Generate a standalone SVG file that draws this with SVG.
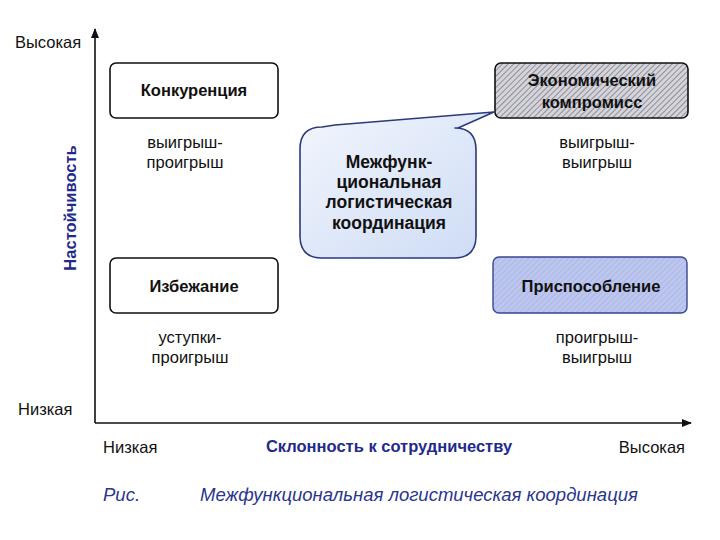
<svg xmlns="http://www.w3.org/2000/svg" width="720" height="540" viewBox="0 0 720 540">
<style>
.t{font-family:"Liberation Sans",Arial,sans-serif;font-size:16.5px;fill:#111}
.b{font-family:"Liberation Sans",Arial,sans-serif;font-size:16.5px;font-weight:bold;fill:#111;text-anchor:middle}
.bc{font-size:17.5px}
.c{text-anchor:middle}
.blue{font-family:"Liberation Sans",Arial,sans-serif;font-size:16.5px;font-weight:bold;fill:#1f2a8c}
.cap{font-family:"Liberation Sans",Arial,sans-serif;font-size:18.5px;font-style:italic;fill:#2a3590}
.box{stroke:#111;stroke-width:1.6}
</style>
<defs>
<pattern id="hg" width="4" height="4" patternUnits="userSpaceOnUse" patternTransform="rotate(45)">
<rect width="4" height="4" fill="#d4d4da"/>
<line x1="0" y1="0" x2="0" y2="4" stroke="#6a6a78" stroke-width="1.3"/>
</pattern>
<pattern id="hb" width="4" height="4" patternUnits="userSpaceOnUse" patternTransform="rotate(45)">
<rect width="4" height="4" fill="#bcc6ee"/>
<line x1="0" y1="0" x2="0" y2="4" stroke="#a4b0e0" stroke-width="1.3"/>
</pattern>
<linearGradient id="gc" x1="0" y1="0" x2="1" y2="1">
<stop offset="0" stop-color="#f2f6fd"/>
<stop offset="1" stop-color="#cddbf5"/>
</linearGradient>
<marker id="ar" markerWidth="10" markerHeight="10" refX="9" refY="5" orient="auto" markerUnits="userSpaceOnUse">
<path d="M0,1 L10,5 L0,9 Z" fill="#111"/>
</marker>
</defs>
<rect width="720" height="540" fill="#fff"/>

<g id="connectors">
<line x1="95" y1="423" x2="95" y2="29" stroke="#111" stroke-width="1.6" marker-end="url(#ar)"/>
<line x1="95" y1="423" x2="691" y2="423" stroke="#111" stroke-width="1.6" marker-end="url(#ar)"/>
</g>

<g id="axis-labels">
<text class="t" x="15" y="48">Высокая</text>
<text class="t" x="18" y="415">Низкая</text>
<text class="blue" transform="translate(76,208) rotate(-90)" text-anchor="middle">Настойчивость</text>
<text class="t" x="103" y="453">Низкая</text>
<text class="blue" x="389" y="452" text-anchor="middle">Склонность к сотрудничеству</text>
<text class="t" x="685" y="453" text-anchor="end">Высокая</text>
</g>

<g id="konkurenciya">
<rect class="box" x="110" y="63" width="168" height="55" rx="6" fill="#fff"/>
<text class="b" x="194" y="96">Конкуренция</text>
<text class="t c" x="185" y="148">выигрыш-</text>
<text class="t c" x="185" y="168">проигрыш</text>
</g>

<g id="kompromiss">
<rect class="box" x="495" y="63" width="193" height="55" rx="6" fill="url(#hg)"/>
<text class="b" x="592" y="86">Экономический</text>
<text class="b" x="592" y="108">компромисс</text>
<text class="t c" x="597" y="148">выигрыш-</text>
<text class="t c" x="597" y="168">выигрыш</text>
</g>

<g id="izbezhanie">
<rect class="box" x="110" y="258" width="168" height="55" rx="6" fill="#fff"/>
<text class="b" x="194" y="292">Избежание</text>
<text class="t c" x="190" y="343">уступки-</text>
<text class="t c" x="190" y="363">проигрыш</text>
</g>

<g id="prisposoblenie">
<rect x="493" y="257" width="194" height="56" rx="6" fill="url(#hb)" stroke="#3a4690" stroke-width="1.4"/>
<text class="b" x="591" y="292">Приспособление</text>
<text class="t c" x="597" y="343">проигрыш-</text>
<text class="t c" x="597" y="363">выигрыш</text>
</g>

<g id="koordinaciya">
<path d="M322,127 L335,125 L494,112 L458,128 L455,128 Q476,128 476,150 L476,236 Q476,258 454,258 L322,258 Q300,258 300,236 L300,149 Q300,127 322,127 Z" fill="url(#gc)" stroke="#2b3a7a" stroke-width="1.6" stroke-linejoin="round"/>
<text class="b bc" x="389" y="168">Межфунк-</text>
<text class="b bc" x="389" y="188">циональная</text>
<text class="b bc" x="389" y="208">логистическая</text>
<text class="b bc" x="389" y="229">координация</text>
</g>

<g id="caption">
<text class="cap" x="103" y="501">Рис.</text>
<text class="cap" x="200" y="501">Межфункциональная логистическая координация</text>
</g>
</svg>
